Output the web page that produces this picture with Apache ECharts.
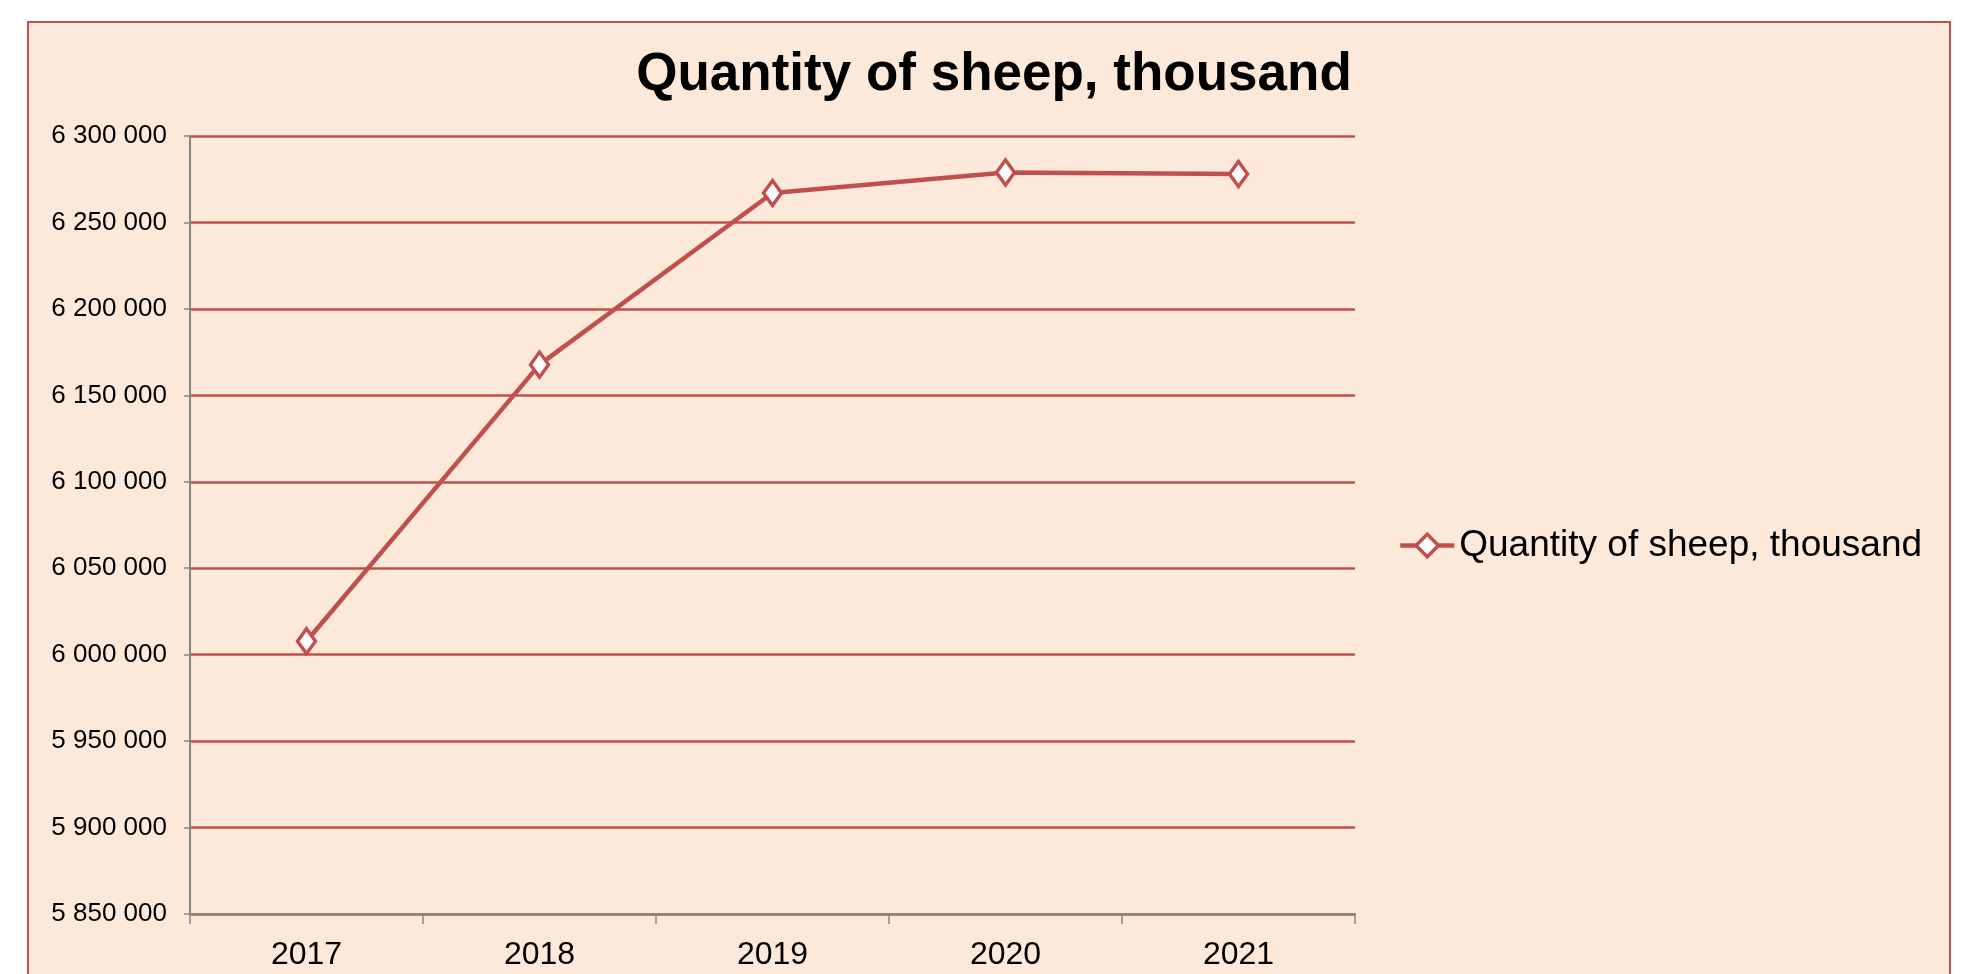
<!DOCTYPE html>
<html>
<head>
<meta charset="utf-8">
<style>
  html, body { margin: 0; padding: 0; background: #ffffff; }
  #frame {
    position: absolute; left: 27px; top: 21px; width: 1920px; height: 980px;
    background: #fde9d9; border: 2px solid #c0504d;
  }
  #chart { position: absolute; left: 0; top: 0; width: 1963px; height: 974px; }
</style>
<script src="https://cdn.jsdelivr.net/npm/echarts@6/dist/echarts.min.js"></script>
</head>
<body>
<div id="frame"></div>
<div id="chart"></div>
<script>
const years = ['2017', '2018', '2019', '2020', '2021'];
const sheep = [6007800, 6167750, 6267000, 6278900, 6278000];
const seriesName = 'Quantity of sheep, thousand';
const yMin = 5850000, yMax = 6300000, yStep = 50000;

const chart = echarts.init(document.getElementById('chart'));
const red = '#c0504d';
const font = '"Liberation Sans", Arial, sans-serif';

// 6300000 -> "6 300 000"
function spaced(v) {
  return String(v).replace(/\B(?=(\d{3})+(?!\d))/g, ' ');
}

chart.setOption({
  animation: false,
  textStyle: { fontFamily: font },
  title: {
    text: 'Quantity of sheep, thousand',
    left: 989, top: 44, textAlign: 'center',
    textStyle: { fontSize: 53, fontWeight: 'bold', color: '#000', fontFamily: font }
  },
  legend: {
    data: [seriesName],
    left: 1393, top: 522,
    itemWidth: 54, itemHeight: 28, itemGap: 4,
    lineStyle: { width: 4.5 },
    itemStyle: { borderWidth: 3.5 },
    textStyle: { fontSize: 37, color: '#000', fontFamily: font }
  },
  grid: { left: 190, right: 608, top: 136, bottom: 60 },
  xAxis: {
    type: 'category',
    data: years,
    boundaryGap: true,
    axisLine: { lineStyle: { color: '#868686', width: 2 } },
    axisTick: { show: true, length: 10, lineStyle: { color: '#868686', width: 1.5 } },
    axisLabel: { fontSize: 32, color: '#000', margin: 25 },
    splitLine: { show: false }
  },
  yAxis: {
    type: 'value',
    min: yMin, max: yMax, interval: yStep,
    axisLine: { show: true, lineStyle: { color: '#868686', width: 2 } },
    axisTick: { show: true, length: 6, lineStyle: { color: '#868686', width: 1.5 } },
    axisLabel: { fontSize: 26, color: '#000', margin: 23, formatter: spaced },
    splitLine: { lineStyle: { color: red, width: 2.5 } }
  },
  series: [{
    name: seriesName,
    type: 'line',
    data: sheep,
    symbol: 'diamond',
    symbolSize: [18, 25],
    lineStyle: { color: red, width: 4.5 },
    itemStyle: { color: '#ffffff', borderColor: red, borderWidth: 3.5 }
  }]
});
</script>
</body>
</html>
